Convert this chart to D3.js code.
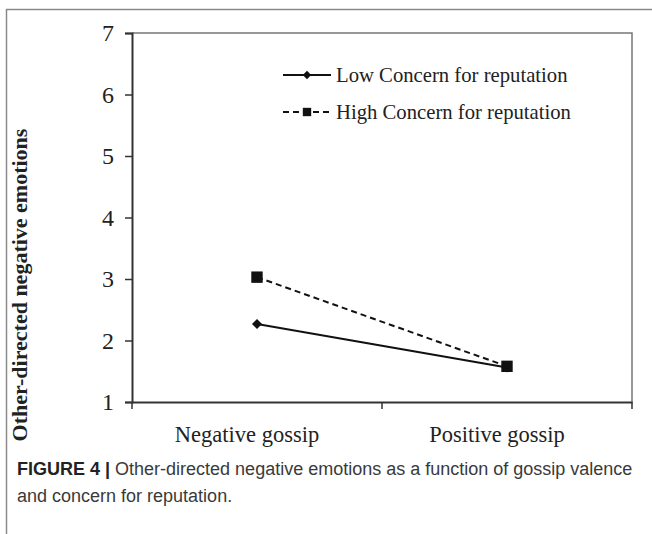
<!DOCTYPE html>
<html><head><meta charset="utf-8">
<script src="https://cdn.jsdelivr.net/npm/d3@7"></script>
<style>html,body{margin:0;padding:0;background:#fff;}svg{display:block;}</style>
</head><body>
<script>
const categories = ["Negative gossip", "Positive gossip"];
const seriesNames = ["Low Concern for reputation", "High Concern for reputation"];
const lowConcern = [2.27, 1.56];
const highConcern = [3.03, 1.58];
const yTicks = [1, 2, 3, 4, 5, 6, 7];
const yLabel = "Other-directed negative emotions";
const captionBold = "FIGURE 4 |";
const captionLine1 = "Other-directed negative emotions as a function of gossip valence";
const captionLine2 = "and concern for reputation.";

(function () {
const W = 652, H = 534;
const svg = d3.select("body").append("svg").attr("width", W).attr("height", H);

// outer frame
svg.append("path").attr("d", `M6.5,${H} V9.5 H${W}`).attr("fill", "none").attr("stroke", "#8a8a8a").attr("stroke-width", 1.5);

const pLeft = 132, pRight = 632, pTop = 33, pBottom = 402;
const x = d3.scaleBand().domain(categories).range([pLeft, pRight]);
const y = d3.scaleLinear().domain([1, 7]).range([pBottom, pTop]);

// plot box (top & right)
svg.append("path").attr("d", `M${pLeft},${pTop} H${pRight} V${pBottom}`).attr("fill", "none").attr("stroke", "#777").attr("stroke-width", 1.5);

const serif = "'Liberation Serif','Times New Roman',serif";

// y axis
const yAxis = svg.append("g").attr("transform", `translate(${pLeft},0)`)
  .call(d3.axisLeft(y).tickValues(yTicks).tickFormat(d3.format("d")).tickSize(7).tickPadding(11));
yAxis.select(".domain").attr("stroke", "#333").attr("stroke-width", 2);
yAxis.selectAll(".tick line").attr("stroke", "#333").attr("stroke-width", 1.5);
yAxis.selectAll("text").attr("font-family", serif).attr("font-size", 24).attr("fill", "#222");

// x axis
const xAxis = svg.append("g").attr("transform", `translate(0,${pBottom})`)
  .call(d3.axisBottom(x).tickSize(0).tickPadding(24));
xAxis.select(".domain").attr("stroke", "#333").attr("stroke-width", 2);
xAxis.selectAll("text").attr("font-family", serif).attr("font-size", 22.5).attr("fill", "#222").attr("dx", -10);
// x boundary ticks
const bounds = [pLeft, pLeft + x.bandwidth(), pRight];
svg.append("g").selectAll("line").data(bounds).join("line")
  .attr("x1", d => d).attr("x2", d => d).attr("y1", pBottom).attr("y2", pBottom + 7)
  .attr("stroke", "#333").attr("stroke-width", 1.5);

// y label
svg.append("text").attr("transform", `translate(27,285) rotate(-90)`)
  .attr("text-anchor", "middle").attr("font-family", serif).attr("font-weight", "bold")
  .attr("font-size", 22).attr("fill", "#222").text(yLabel);

const cx = d => x(d) + x.bandwidth() / 2;
const line = d3.line().x(d => cx(d.c)).y(d => y(d.v));
const lowData = categories.map((c, i) => ({ c, v: lowConcern[i] }));
const highData = categories.map((c, i) => ({ c, v: highConcern[i] }));

svg.append("path").datum(lowData).attr("d", line).attr("fill", "none").attr("stroke", "#111").attr("stroke-width", 2);
svg.append("path").datum(highData).attr("d", line).attr("fill", "none").attr("stroke", "#111").attr("stroke-width", 2).attr("stroke-dasharray", "6,4");

svg.append("g").selectAll("path").data(lowData).join("path")
  .attr("transform", d => `translate(${cx(d.c)},${y(d.v)}) rotate(45)`)
  .attr("d", d3.symbol().type(d3.symbolSquare).size(50)).attr("fill", "#111");
svg.append("g").selectAll("path").data(highData).join("path")
  .attr("transform", d => `translate(${cx(d.c)},${y(d.v)})`)
  .attr("d", d3.symbol().type(d3.symbolSquare).size(130)).attr("fill", "#111");

// legend
const lg = svg.append("g");
const legendRows = [
  { name: seriesNames[0], yy: 75, dash: null, sym: "d" },
  { name: seriesNames[1], yy: 112, dash: "6,4", sym: "s" }
];
legendRows.forEach(r => {
  lg.append("line").attr("x1", 283).attr("x2", 331).attr("y1", r.yy).attr("y2", r.yy)
    .attr("stroke", "#111").attr("stroke-width", 2).attr("stroke-dasharray", r.dash);
  if (r.sym === "d") {
    lg.append("path").attr("transform", `translate(307,${r.yy}) rotate(45)`)
      .attr("d", d3.symbol().type(d3.symbolSquare).size(35)).attr("fill", "#111");
  } else {
    lg.append("path").attr("transform", `translate(307,${r.yy})`)
      .attr("d", d3.symbol().type(d3.symbolSquare).size(70)).attr("fill", "#111");
  }
  lg.append("text").attr("x", 336).attr("y", r.yy).attr("dy", "0.35em")
    .attr("font-family", serif).attr("font-size", 20.7).attr("fill", "#222").text(r.name);
});

// caption
const sans = "'Liberation Sans',Arial,sans-serif";
const cap = svg.append("text").attr("x", 17).attr("y", 475).attr("font-family", sans)
  .attr("font-size", 18).attr("fill", "#3a3a3a");
cap.append("tspan").attr("font-weight", "bold").attr("fill", "#222").text(captionBold + " ");
cap.append("tspan").text(captionLine1);
svg.append("text").attr("x", 17).attr("y", 502).attr("font-family", sans)
  .attr("font-size", 18).attr("fill", "#3a3a3a").text(captionLine2);
})();
</script>
</body></html>
